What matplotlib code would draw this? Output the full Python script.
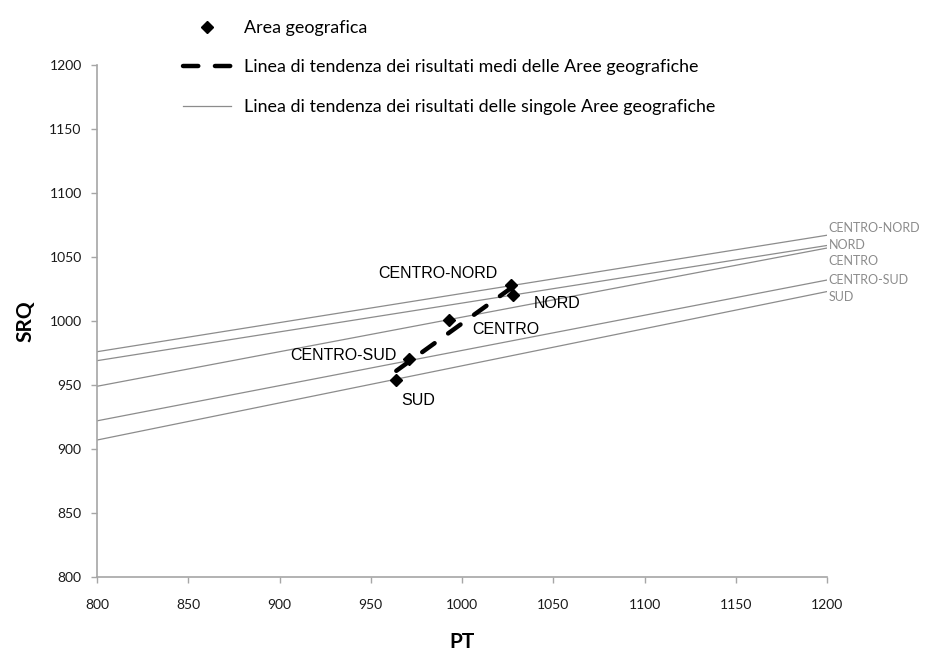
import numpy as np
import matplotlib
matplotlib.use("Agg")
import matplotlib.pyplot as plt

plt.rcParams['font.family'] = ['Lato', 'DejaVu Sans']
plt.rcParams['lines.scale_dashes'] = False

# area means (PT, SRQ)
areas = ["CENTRO-NORD", "NORD", "CENTRO", "CENTRO-SUD", "SUD"]
pt_mean = [1027, 1028, 993, 971, 964]
srq_mean = [1028, 1020, 1001, 970, 954]

# single-area trend lines, SRQ value at PT = 800 and PT = 1200
trend_x = [800, 1200]
trend_start = [976, 969, 949, 922, 907]
trend_end = [1067, 1059, 1057, 1032, 1023]

# where the area names go next to the points / at the right edge
point_lab_x = [987, 1052, 1024, 935, 976]
point_lab_y = [1037, 1014, 993, 973, 938]
edge_lab_y = [1073, 1059, 1047, 1032, 1019]

ticks = [800, 850, 900, 950, 1000, 1050, 1100, 1150, 1200]

grey = "#8c8c8c"
axis_grey = "#a6a6a6"

fig = plt.figure(figsize=(9.29, 6.63), dpi=100)
ax = fig.add_axes([97 / 929, 1 - 577 / 663, 730 / 929, 512 / 663])

# trend lines of each area
for i in range(len(areas)):
    l, = ax.plot(trend_x, [trend_start[i], trend_end[i]], color=grey, lw=0.9,
                 zorder=2)
    ax.text(trend_x[1] + 1, edge_lab_y[i], areas[i], color=grey, fontsize=9,
            ha="left", va="center", clip_on=False)
solid_handle = l

# trend of the means (least squares, as the excel trendline)
k, b = np.polyfit(pt_mean, srq_mean, 1)
xx = np.array([min(pt_mean), max(pt_mean)])
dash, = ax.plot(xx, k * xx + b, color="black", lw=3.2, dashes=(11, 12),
                dash_capstyle="round", zorder=3)

pts, = ax.plot(pt_mean, srq_mean, ls="none", marker="D", ms=6, color="black",
               zorder=4)

for i in range(len(areas)):
    ax.text(point_lab_x[i], point_lab_y[i], areas[i], fontsize=11.5,
            family="Liberation Sans", ha="center", va="center", zorder=5)

ax.set_xlim(800, 1200)
ax.set_ylim(800, 1200)
ax.set_xticks(ticks)
ax.set_yticks(ticks)
for s in ["top", "right"]:
    ax.spines[s].set_visible(False)
for s in ["left", "bottom"]:
    ax.spines[s].set_color(axis_grey)
    ax.spines[s].set_linewidth(1.2)
ax.tick_params(axis="both", direction="out", length=4, width=1,
               color=axis_grey, labelsize=10, labelcolor="#1a1a1a")
ax.tick_params(axis="y", pad=7)
ax.tick_params(axis="x", pad=12)

ax.set_xlabel("PT", fontsize=15, fontweight="bold")
ax.set_ylabel("SRQ", fontsize=15, fontweight="bold")
ax.xaxis.set_label_coords(0.5, -0.108)
ax.yaxis.set_label_coords(-0.084, 0.5)

leg = ax.legend([pts, dash, solid_handle],
                ["Area geografica",
                 "Linea di tendenza dei risultati medi delle Aree geografiche",
                 "Linea di tendenza dei risultati delle singole Aree geografiche"],
                loc="upper left", bbox_to_anchor=(183 / 929, 1 - 20 / 663),
                bbox_transform=fig.transFigure, frameon=False, fontsize=12.9,
                numpoints=1, handlelength=2.7, handletextpad=0.7,
                labelspacing=1.31, borderpad=0, borderaxespad=0)

fig.savefig("out.png", dpi=100)
